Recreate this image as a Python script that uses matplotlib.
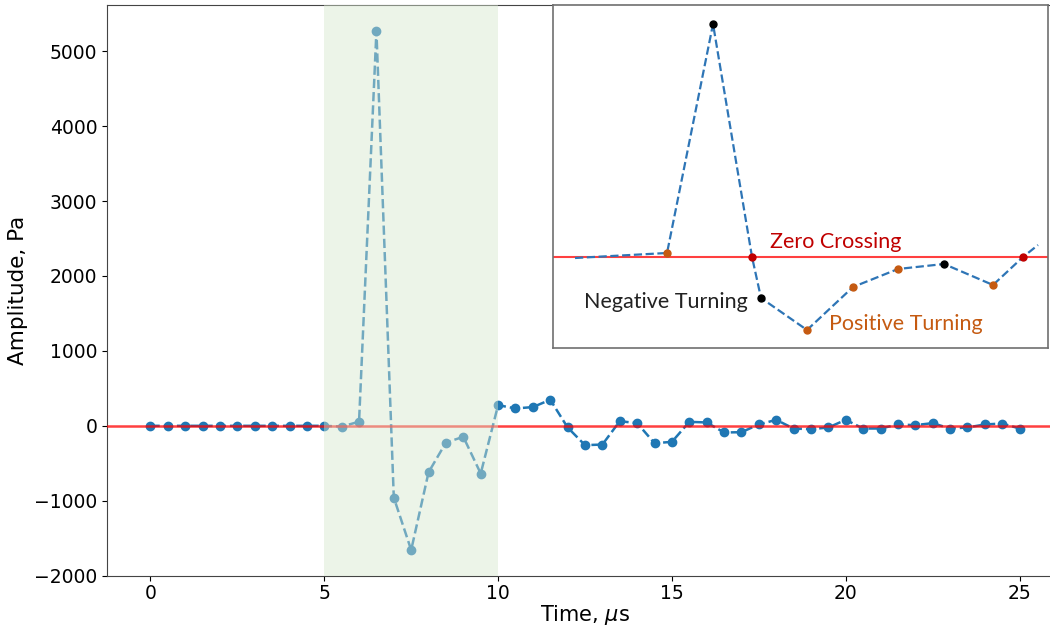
import numpy as np
import matplotlib as mpl
mpl.use('Agg')
import matplotlib.pyplot as plt

# main trace, sampled every 0.5 us
time_us = np.arange(0, 25.5, 0.5)
amplitude = [
    0, 0, 0, 0, 0, 0, 0, 0, 0, 0,
    0, -10, 55, 5270, -958, -1658, -620, -223, -147, -637,
    276, 232, 250, 348, -22, -258, -250, 62, 36, -232,
    -214, 53, 45, -89, -85, 18, 80, -36, -45, -22,
    80, -36, -36, 18, 9, 36, -36, -22, 18, 31,
    -36,
]
shade_start, shade_stop = 5, 10

# inset sketch (arbitrary units, zero line at 0)
inset_x = [22, 114, 160, 199, 208, 254, 300, 345, 391, 440, 470, 485]
inset_y = [-1, 4, 233, 0, -41, -73, -30, -12, -7, -28, 0, 12]
inset_kind = ['', 'pos', 'neg', 'zero', 'neg', 'pos', 'pos', 'pos', 'neg', 'pos', 'zero', '']
kind_colors = {'pos': '#c55a11', 'neg': 'black', 'zero': '#c00000'}


def main():
    fig = plt.figure(figsize=(10.5, 6.26), dpi=100)
    ax = fig.add_axes([0.1019, 0.0799, 0.9105, 0.912])

    ax.plot(time_us, amplitude, linestyle='--', marker='o', markersize=6,
            lw=1.8, color='#1f77b4', zorder=2)
    ax.axhline(0, color='red', alpha=0.75, lw=1.8, zorder=3)
    ax.axvspan(shade_start, shade_stop, color='#d7e7ce', alpha=0.45,
               lw=0, zorder=5)

    ax.set_xlabel(r'Time, $\mu$s', fontsize=15, labelpad=0)
    ax.set_ylabel('Amplitude, Pa', fontsize=15.5)
    ax.tick_params(labelsize=13.5)
    ax.tick_params(axis='x', pad=2.5)
    for sp in ax.spines.values():
        sp.set_color('#444444')

    # inset showing the turning point / zero crossing definitions
    ins = fig.add_axes([0.5267, 0.4441, 0.4714, 0.5479])
    ins.set_xlim(0, 495)
    ins.set_ylim(-91, 252)
    ins.set_xticks([])
    ins.set_yticks([])
    for sp in ins.spines.values():
        sp.set_color('#707070')
        sp.set_linewidth(1.2)
    ins.axhline(0, color='red', alpha=0.75, lw=1.5, zorder=1)
    ins.plot(inset_x, inset_y, linestyle='--', color='#2e75b6', lw=1.6, zorder=2)
    for x, y, k in zip(inset_x, inset_y, inset_kind):
        if k:
            ins.plot(x, y, 'o', color=kind_colors[k], markersize=5, zorder=3)

    ins.text(217, 15, 'Zero Crossing', color='#c00000', fontsize=15.5,
             family='Lato', va='center', ha='left')
    ins.text(195, -45, 'Negative Turning', color='#222222', fontsize=15.5,
             family='Lato', va='center', ha='right')
    ins.text(276, -67, 'Positive Turning', color='#c55a11', fontsize=15.5,
             family='Lato', va='center', ha='left')

    fig.savefig('out.png', dpi=100)


if __name__ == "__main__":
    main()
